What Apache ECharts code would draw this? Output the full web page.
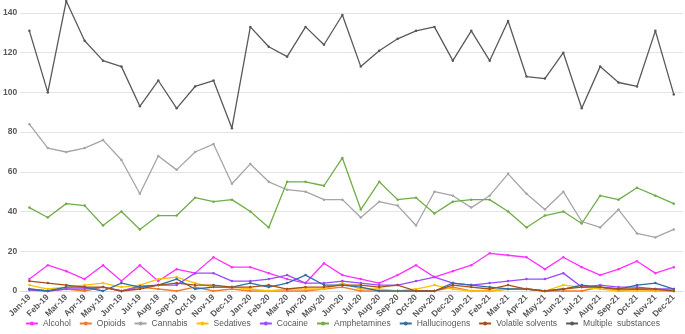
<!DOCTYPE html>
<html><head><meta charset="utf-8">
<script src="https://cdn.jsdelivr.net/npm/echarts@6/dist/echarts.min.js"></script>
<style>html,body{margin:0;padding:0;background:#fff}#c{width:685px;height:334px}</style>
</head><body><div id="c"></div>
<script>
var months = ["Jan-19","Feb-19","Mar-19","Apr-19","May-19","Jun-19","Jul-19","Aug-19","Sep-19","Oct-19","Nov-19","Dec-19",
"Jan-20","Feb-20","Mar-20","Apr-20","May-20","Jun-20","Jul-20","Aug-20","Sep-20","Oct-20","Nov-20","Dec-20",
"Jan-21","Feb-21","Mar-21","Apr-21","May-21","Jun-21","Jul-21","Aug-21","Sep-21","Oct-21","Nov-21","Dec-21"];
var alcohol = [6,13,10,6,13,5,13,5,11,9,17,12, 12,9,6,4,14,8,6,4,8,13,7,10, 13,19,18,17,11,17,12,8,11,15,9,12];
var opioids = [1,0,1,0,2,0,2,1,0,2,0,1, 0,0,0,0,1,2,0,0,0,0,0,2, 0,0,1,1,0,0,0,2,0,1,0,0];
var cannabis = [84,72,70,72,76,66,49,68,61,70,74,54, 64,55,51,50,46,46,37,45,43,33,50,48, 42,48,59,49,41,50,35,32,41,29,27,31];
var sedatives = [3,1,2,3,4,2,3,6,7,4,2,2, 1,0,1,1,1,4,1,1,0,1,3,1, 0,0,1,1,0,3,2,1,0,0,0,0];
var cocaine = [0.5,0,1,1,2,0,2.5,3,3,9,9,5, 5,6,8,4,4,5,4,3,3,5,7,4, 3,4,5,6,6,9,2,3,2,2,1,1];
var amphetamines = [42,37,44,43,33,40,31,38,38,47,45,46, 40,32,55,55,53,67,41,55,46,47,39,45, 46,46,40,32,38,40,34,48,46,52,48,44];
var hallucinogens = [1,0,2,2,0,4,2,3,6,1,2,2, 4,2,4,8,3,3,2,0,0,0,0,4, 3,2,1,1,0,1,3,2,1,3,4,1];
var volatile = [5,4,3,2,2,0,1,3,4,3,3,2, 2,3,1,2,2,3,3,2,3,0,0,3, 2,1,3,1,0,1,2,2,1,1,1,0];
var multiple = [131,100,146,126,116,113,93,106,92,103,106,82, 133,123,118,133,124,139,113,121,127,131,133,116, 131,116,136,108,107,120,92,113,105,103,131,99];
var yTicks = [0,20,40,60,80,100,120,140];

var names = ["Alcohol","Opioids","Cannabis","Sedatives","Cocaine","Amphetamines","Hallucinogens","Volatile solvents","Multiple  substances"];
var datas = [alcohol,opioids,cannabis,sedatives,cocaine,amphetamines,hallucinogens,volatile,multiple];
var colors = ["#FF33FF","#ED7D31","#A5A5A5","#FFC000","#9B4BFF","#70AD47","#2E6FA7","#A5501A","#595959"];

var series = names.map(function(n,i){
  return {name:n,type:'line',data:datas[i],clip:false,symbol:'circle',symbolSize:2.5,showSymbol:true,
    lineStyle:{width:1.3,color:colors[i]},itemStyle:{color:colors[i]},z:(i===8?10:2)};
});
var chart = echarts.init(document.getElementById('c'),null,{renderer:'canvas'});
chart.setOption({
  animation:false,
  color:colors,
  grid:{left:20,right:2,top:13,bottom:43,containLabel:false},
  legend:{top:319,left:'center',padding:0,itemWidth:12,itemHeight:5,itemGap:8,
    textStyle:{fontSize:8.5,color:'#595959',fontFamily:'Liberation Sans, Arial, sans-serif'},data:names},
  xAxis:{type:'category',data:months,boundaryGap:true,
    axisLine:{show:true,lineStyle:{color:'#d9d9d9'}},axisTick:{show:false},
    axisLabel:{interval:0,rotate:45,fontSize:8.5,color:'#595959',fontWeight:'bold',margin:5,fontFamily:'Liberation Sans, Arial, sans-serif'}},
  yAxis:{type:'value',min:0,max:140,interval:20,
    axisLine:{show:false},axisTick:{show:false},
    splitLine:{lineStyle:{color:'#e3e3e3',width:1}},
    axisLabel:{fontSize:8.5,color:'#595959',fontWeight:'bold',margin:3,fontFamily:'Liberation Sans, Arial, sans-serif'}},
  series:series
});
</script></body></html>
